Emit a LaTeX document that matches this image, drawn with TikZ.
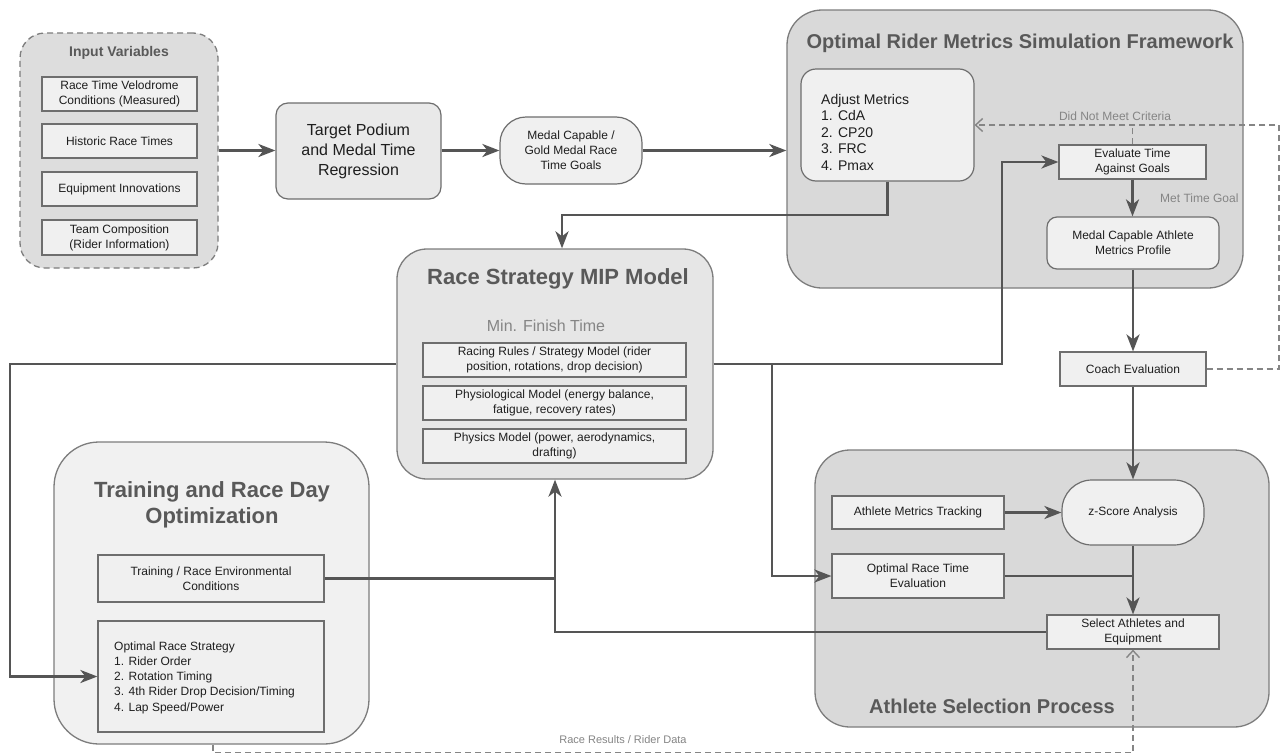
\documentclass[tikz,border=0pt]{standalone}
\usepackage{fontspec}
\setmainfont{Liberation Sans}
\usetikzlibrary{arrows.meta}
\newcommand\myfs[2]{\fontsize{#1}{#2}\selectfont}
\definecolor{ln}{HTML}{555555}
\definecolor{bd}{HTML}{6E6E6E}
\definecolor{bf}{HTML}{F0F0F0}
\definecolor{cdark}{HTML}{D9D9D9}
\definecolor{cmid}{HTML}{E6E6E6}
\definecolor{clight}{HTML}{F1F1F1}
\definecolor{cinp}{HTML}{DDDDDD}
\definecolor{ttl}{HTML}{595959}
\definecolor{lbl}{HTML}{858585}
\definecolor{tx}{HTML}{1E1E1E}
\tikzset{
  box/.style={draw=bd, fill=bf, line width=1.2pt, inner sep=0pt, align=center, text=tx, font=\myfs{12}{15}},
  cont/.style={draw=bd!90, line width=1.3pt, inner sep=0pt},
  ttlstyle/.style={text=ttl, font=\bfseries\myfs{20}{24}, inner sep=0pt, align=center},
  arr/.style={draw=ln, line width=2.6pt, -{Stealth[length=17pt,width=13pt,inset=5pt]}},
  conn/.style={draw=ln, line width=2.6pt},
  dsh/.style={draw=lbl, line width=1.4pt, dash pattern=on 6pt off 4pt},
  barb/.style={-{Straight Barb[length=7pt,width=13pt]}},
  lab/.style={text=lbl, font=\myfs{12}{14}, inner sep=0pt}
}
\begin{document}
\begin{tikzpicture}[x=1pt,y=-1pt]
\useasboundingbox (0,0) rectangle (1281,755);
\fill[white] (0,0) rectangle (1281,755);

% containers
\node[cont, fill=cinp, dashed, dash pattern=on 6pt off 4pt, rounded corners=25pt, minimum width=198pt, minimum height=235pt] (inputs) at (119,150.5) {};
\node[ttlstyle, font=\bfseries\myfs{14}{16}] (inputs-t) at (119,53) {Input Variables};
\node[cont, fill=cdark, rounded corners=35pt, minimum width=456pt, minimum height=278pt] (ormsf) at (1015,149) {};
\node[ttlstyle] (ormsf-t) at (1020,43) {Optimal Rider Metrics Simulation Framework};
\node[cont, fill=cmid, rounded corners=30pt, minimum width=316pt, minimum height=230pt] (mip) at (555,364) {};
\node[ttlstyle, font=\bfseries\myfs{22}{26}] (mip-t) at (558,279) {Race Strategy MIP Model};
\node[text=lbl, font=\myfs{16}{18}, inner sep=0pt] (mip-s) at (546,326) {Min. Finish Time};
\node[cont, fill=cdark, rounded corners=35pt, minimum width=454pt, minimum height=277pt] (asp) at (1042,588.5) {};
\node[ttlstyle] (asp-t) at (992,706) {Athlete Selection Process};
\node[cont, fill=clight, rounded corners=45pt, minimum width=315pt, minimum height=302pt] (training) at (211.5,593) {};
\node[ttlstyle, font=\bfseries\myfs{22}{26}] (training-t) at (212,505) {Training and Race Day\\Optimization};

% input boxes
\node[box, minimum width=155pt, minimum height=34pt] (in1) at (119.5,94) {Race Time Velodrome\\Conditions (Measured)};
\node[box, minimum width=155pt, minimum height=34pt] (in2) at (119.5,141) {Historic Race Times};
\node[box, minimum width=155pt, minimum height=34pt] (in3) at (119.5,189) {Equipment Innovations};
\node[box, minimum width=155pt, minimum height=35pt] (in4) at (119.5,237.5) {Team Composition\\(Rider Information)};

\node[box, fill=cmid!70!bf, rounded corners=12pt, minimum width=165pt, minimum height=96pt, font=\myfs{16}{20}] (target) at (358.5,151) {Target Podium\\and Medal Time\\Regression};
\node[box, rounded corners=26pt, minimum width=142pt, minimum height=67pt] (goals) at (571,150.5) {Medal Capable /\\Gold Medal Race\\Time Goals};

% ORMSF inner
\node[box, rounded corners=15pt, minimum width=173pt, minimum height=112pt] (adjust) at (887.5,125) {};
\node[anchor=west, align=left, inner sep=0pt, text=tx, font=\myfs{14}{16.5}] (adjust-t) at (821,132) {Adjust Metrics\\1. CdA\\2. CP20\\3. FRC\\4. Pmax};
\node[box, minimum width=147pt, minimum height=34pt] (evaluate) at (1132.5,162) {Evaluate Time\\Against Goals};
\node[box, rounded corners=10pt, minimum width=172pt, minimum height=52pt] (profile) at (1133,243) {Medal Capable Athlete\\Metrics Profile};
\node[box, minimum width=146pt, minimum height=34pt] (coach) at (1133,369) {Coach Evaluation};

% MIP inner
\node[box, minimum width=263pt, minimum height=34pt] (r1) at (554.5,360) {Racing Rules / Strategy Model (rider\\position, rotations, drop decision)};
\node[box, minimum width=263pt, minimum height=34pt] (r2) at (554.5,403) {Physiological Model (energy balance,\\fatigue, recovery rates)};
\node[box, minimum width=263pt, minimum height=34pt] (r3) at (554.5,446) {Physics Model (power, aerodynamics,\\drafting)};

% ASP inner
\node[box, minimum width=172pt, minimum height=33pt] (amt) at (918,512.5) {Athlete Metrics Tracking};
\node[box, rounded corners=30pt, minimum width=142pt, minimum height=65pt] (zscore) at (1133,512.5) {z-Score Analysis};
\node[box, minimum width=172pt, minimum height=44pt] (orte) at (918,576) {Optimal Race Time\\Evaluation};
\node[box, minimum width=172pt, minimum height=34pt] (select) at (1133,632) {Select Athletes and\\Equipment};

% Training inner
\node[box, minimum width=226pt, minimum height=47pt] (env) at (211,578.5) {Training / Race Environmental\\Conditions};
\node[box, minimum width=226pt, minimum height=111pt] (ors) at (211,676.5) {};
\node[anchor=west, align=left, inner sep=0pt, text=tx, font=\myfs{12}{15.3}] (ors-t) at (114,677.5) {Optimal Race Strategy\\1. Rider Order\\2. Rotation Timing\\3. 4th Rider Drop Decision/Timing\\4. Lap Speed/Power};

% connectors
\draw[arr] (inputs.east) -- (inputs.east -| target.west);
\draw[arr] (target.east |- goals.west) -- (goals.west);
\draw[arr] (goals.east) -- (goals.east -| ormsf.west);
\draw[arr] (adjust.south) -- (887.5,215) -| ([xshift=7pt]mip.north);
\draw[arr] (mip.east) -- (1002,364) |- (evaluate.west);
\draw[arr] (772,364) |- (orte.west);
\draw[arr] (mip.west) -- (10,364) |- (ors.west);
\draw[arr] (evaluate.south) -- (evaluate.south |- profile.north);
\node[lab, anchor=west] (metgoal) at (1160,198) {Met Time Goal};
\draw[arr] (profile.south) -- (profile.south |- coach.north);
\draw[arr] (coach.south) -- (coach.south |- zscore.north);
\draw[arr] (amt.east) -- (amt.east -| zscore.west);
\draw[arr] (zscore.south) -- (zscore.south |- select.north);
\draw[conn] (orte.east) -- (orte.east -| select.north);
\draw[arr] (select.west) -| (mip.south);
\draw[conn] (env.east) -- (env.east -| mip.south);

% dashed feedback
\draw[dsh, barb] (coach.east) -- (1279,369) |- (adjust.east);
\draw[dsh] (evaluate.north) -- (evaluate.north |- adjust.east);
\node[lab] (dnm) at (1115,116) {Did Not Meet Criteria};
\draw[dsh, barb] ([xshift=1.5pt]training.south) -- ([xshift=1.5pt,yshift=-8pt]training.south) -| (select.south);
\node[lab, font=\myfs{11}{13}] (rr) at (623,740) {Race Results / Rider Data};
\end{tikzpicture}
\end{document}
